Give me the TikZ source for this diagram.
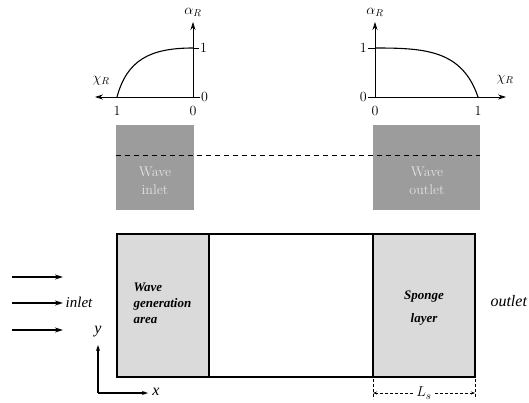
\documentclass[tikz,border=0pt]{standalone}
\usepackage{amsmath}
\usepackage{fontspec}
\newfontfamily\timesfont{Liberation Serif}
\usetikzlibrary{arrows.meta, positioning, calc}
\definecolor{zoneGray}{HTML}{9C9C9C}
\definecolor{spongeGray}{HTML}{DADADA}
\definecolor{paleText}{HTML}{E2E2E2}

\begin{document}
\begin{tikzpicture}[
      x=1pt, y=-1pt,
      font=\fontsize{14}{16}\selectfont,
      axis/.style={-{Stealth[length=8pt,width=5pt]}, line width=0.7pt},
      ramp/.style={line width=1.1pt},
      lbl/.style={inner sep=1pt},
      zone/.style={fill=zoneGray, draw=none, inner sep=0pt},
      zonetext/.style={align=center, text=paleText, font=\fontsize{14}{18}\selectfont},
      domtext/.style={align=#1, font=\timesfont\bfseries\itshape\fontsize{13}{16}\selectfont},
      flow/.style={-{Stealth[length=8pt,width=5pt]}, line width=1.4pt}
    ]
    \useasboundingbox (0,0) rectangle (529,402);

    % relaxation weight near the inlet
    \coordinate (oA) at (193,97);
    \coordinate (yA) at (193,22);
    \coordinate (xA) at (95,97);
    \coordinate (endA) at (200,97);
    \coordinate (topA) at (199,48);
    \draw[axis] (endA) -- (xA);
    \draw[axis] (oA) -- (yA);
    \draw (oA |- topA) -- (topA);
    \draw[ramp] (117,97) .. controls (127,60) and (150,48) .. (193,48);
    \node[lbl] (alphaA) at (193,12) {$\alpha_R$};
    \node[lbl] (chiA) at (101,81) {$\chi_R$};
    \node[lbl, right] (oneA) at (topA) {1};
    \node[lbl, right] (zeroA) at (endA) {0};
    \node[lbl] (lftA) at (117,111) {1};
    \node[lbl] (rgtA) at (193,111) {0};

    % relaxation weight near the outlet
    \coordinate (oB) at (375,97);
    \coordinate (yB) at (375,22);
    \coordinate (xB) at (506,97);
    \coordinate (endB) at (368,97);
    \coordinate (topB) at (368,48);
    \draw[axis] (endB) -- (xB);
    \draw[axis] (oB) -- (yB);
    \draw (topB) -- (oB |- topB);
    \draw[ramp] (375,48) .. controls (425,48) and (462,50) .. (478,97);
    \node[lbl] (alphaB) at (375,12) {$\alpha_R$};
    \node[lbl] (chiB) at (505,80) {$\chi_R$};
    \node[lbl, left] (oneB) at (topB) {1};
    \node[lbl, left] (zeroB) at (endB) {0};
    \node[lbl] (lftB) at (375,111) {0};
    \node[lbl] (rgtB) at (478,111) {1};

    % relaxation zones and still water level
    \node[zone, minimum width=78, minimum height=85] (inzone) at (155,167.5) {};
    \node[zone, minimum width=107, minimum height=85] (outzone) at (426.5,167.5) {};
    \draw[dash pattern=on 5pt off 4pt, line width=1pt] (inzone.west |- 0,155) -- (outzone.east |- 0,155);
    \node[zonetext] (intext) at (155,181) {Wave\\inlet};
    \node[zonetext] (outtext) at (427,181) {Wave\\outlet};

    % numerical flume
    \fill[spongeGray] (117,234) rectangle (209,377);
    \fill[spongeGray] (373,234) rectangle (475,377);
    \draw[line width=1.2pt] (209,234) -- (209,377);
    \draw[line width=1.2pt] (373,234) -- (373,377);
    \draw[line width=1.8pt] (117,234) rectangle (475,377);
    \node[domtext=left, anchor=west] (gen) at (130,303) {Wave\\generation\\area};
    \node[domtext=center, font=\timesfont\bfseries\itshape\fontsize{13}{23}\selectfont] (sponge) at (424,308) {Sponge\\layer};

    % incoming waves
    \foreach \yy in {277,303,330}{
      \coordinate (in\yy) at (12,\yy);
      \coordinate (out\yy) at (63,\yy);
      \draw[flow] (in\yy) -- (out\yy);
    }
    \node[font=\timesfont\itshape\fontsize{15}{15}\selectfont] (inlet) at (79,302) {inlet};
    \node[font=\timesfont\itshape\fontsize{16}{16}\selectfont, anchor=west] (outlet) at (487,301) {outlet};

    % axes
    \coordinate (org) at (98,393);
    \coordinate (ytip) at (98,345);
    \coordinate (xtip) at (148,393);
    \draw[-{Stealth[length=6pt,width=4pt]}, line width=1.1pt] (org) -- (ytip);
    \draw[-{Stealth[length=6pt,width=4pt]}, line width=1.1pt] (org) -- (xtip);
    \node[font=\timesfont\itshape\fontsize{16}{16}\selectfont] (ylbl) at (98,332) {y};
    \node[font=\timesfont\itshape\fontsize{16}{16}\selectfont] (xlbl) at (156,392) {x};

    % sponge layer width
    \coordinate (ls1) at (373,393);
    \coordinate (ls2) at (475,393);
    \draw[dash pattern=on 3pt off 2pt, line width=0.6pt] (373,379) -- (373,399);
    \draw[dash pattern=on 3pt off 2pt, line width=0.6pt] (475,379) -- (475,399);
    \draw[dash pattern=on 3pt off 2pt, line width=0.6pt, {Stealth[length=4pt,width=3pt]}-{Stealth[length=4pt,width=3pt]}] (ls1) --
      node[fill=white, inner sep=2pt, font=\fontsize{15}{15}\selectfont] (lsl) {$L_s$} (ls2);
  \end{tikzpicture}
\end{document}
